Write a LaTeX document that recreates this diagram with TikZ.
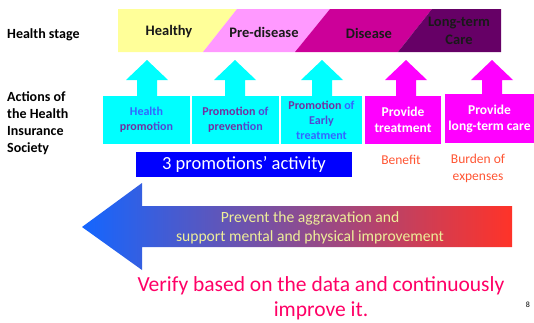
\documentclass[tikz,border=0pt]{standalone}
\usepackage{fontspec}
\setmainfont{Carlito}
\definecolor{stYellow}{HTML}{FFFF99}
\definecolor{stPink}{HTML}{FF99FF}
\definecolor{stMag}{HTML}{CC0099}
\definecolor{stDark}{HTML}{660066}
\definecolor{cyanbox}{HTML}{00FFFF}
\definecolor{magbox}{HTML}{FF00FF}
\definecolor{txtPurple}{HTML}{7030A0}
\definecolor{txtBlue}{HTML}{3366FF}
\definecolor{txtMix}{HTML}{5248D0}
\definecolor{promoBlue}{HTML}{0000FF}
\definecolor{costRed}{HTML}{FF5533}
\definecolor{arrowTxt}{HTML}{EEEE99}
\definecolor{verifyPink}{HTML}{FF0066}
\definecolor{arrL}{HTML}{1466FF}
\definecolor{arrM}{HTML}{A452C8}
\definecolor{arrR}{HTML}{FF3328}
\tikzset{
  lbl/.style={font=\fontsize{14}{16.8}\selectfont\bfseries, align=left, anchor=west, inner sep=0pt},
  stagetxt/.style={font=\fontsize{14.5}{18}\selectfont\bfseries, align=center, inner sep=0pt, text=black!90},
  actbox/.style={minimum width=#1, minimum height=48pt, inner sep=0pt, align=center},
  cbox/.style={actbox=#1, fill=cyanbox, font=\fontsize{12}{15}\selectfont\bfseries},
  mbox/.style={actbox=#1, fill=magbox, text=white, font=\fontsize{13.5}{16}\selectfont\bfseries},
  costtxt/.style={text=costRed, font=\fontsize{13.5}{17}\selectfont, align=center, inner sep=0pt},
}
% up block arrow: #1 x centre, #2 colour
\newcommand{\upblock}[2]{%
  \fill[#2] (#1-10,96) -- (#1-10,80) -- (#1-21,80) -- (#1,60) -- (#1+21,80) -- (#1+10,80) -- (#1+10,96) -- cycle;}
\begin{document}
\begin{tikzpicture}[x=1pt,y=-1pt]
\useasboundingbox (0,0) rectangle (534,322);
% health stage bar
\fill[stYellow] (118,9) -- (237,9) -- (203,52) -- (118,52) -- cycle;
\fill[stPink] (237,9) -- (330,9) -- (295,52) -- (203,52) -- cycle;
\fill[stMag] (330,9) -- (432,9) -- (398,52) -- (295,52) -- cycle;
\fill[stDark] (432,9) -- (501,9) -- (501,52) -- (398,52) -- cycle;
\node[stagetxt] (healthy) at (169,32) {Healthy};
\node[stagetxt] (pre) at (264,32) {Pre-disease};
\node[stagetxt] (dis) at (369,33) {Disease};
\node[stagetxt] (ltc) at (459,31) {Long-term\\Care};
% left labels
\node[lbl] (hs) at (7,35) {Health stage};
\node[lbl] (act) at (7,123) {Actions of\\the Health\\Insurance\\Society};
% block arrows
\upblock{147}{cyanbox}
\upblock{235}{cyanbox}
\upblock{322}{cyanbox}
\upblock{406}{magbox}
\upblock{492}{magbox}
% action boxes
\node[cbox=87pt] (b1) at (146.5,120) {\textcolor{txtBlue}{Health}\\\textcolor{txtPurple}{promo}\textcolor{txtMix}{tion}};
\node[cbox=87pt] (b2) at (235.5,120) {\textcolor{txtPurple}{Promotion} \textcolor{txtMix}{of}\\\textcolor{txtPurple}{preven}\textcolor{txtMix}{tion}};
\node[cbox=81pt] (b3) at (321.5,120) {\textcolor{txtPurple}{Promotion} \textcolor{txtBlue}{of}\\\textcolor{txtMix}{Early}\\\textcolor{txtBlue}{treatment}};
\node[mbox=76pt] (b4) at (403,120) {Provide\\treatment};
\node[mbox=89pt, minimum height=49pt] (b5) at (489.5,118.5) {Provide\\long-term care};
% promotions bar
\node[fill=promoBlue, text=white, minimum width=216pt, minimum height=25pt, inner sep=0pt, font=\fontsize{18.5}{20}\selectfont] (promo) at (244,164.5) {3 promotions’ activity};
\node[costtxt] (ben) at (401,160) {Benefit};
\node[costtxt] (bur) at (478,168.5) {Burden of\\expenses};
% big arrow
\shade[left color=arrL, middle color=arrM, right color=arrR]
  (82,227) -- (142,183) -- (142,206) -- (512,206) -- (512,247) -- (142,247) -- (142,270) -- cycle;
\node[text=arrowTxt, font=\fontsize{15.6}{19}\selectfont, align=center, inner sep=0pt] (prev) at (310,227.5) {Prevent the aggravation and\\support mental and physical improvement};
% bottom text
\node[text=verifyPink, font=\fontsize{21.5}{25}\selectfont, align=center, inner sep=0pt] (ver) at (321,298) {Verify based on the data and continuously\\improve it.};
\node[font=\fontsize{8}{9}\selectfont, inner sep=0pt] (pg) at (528,305) {8};
\end{tikzpicture}
\end{document}
